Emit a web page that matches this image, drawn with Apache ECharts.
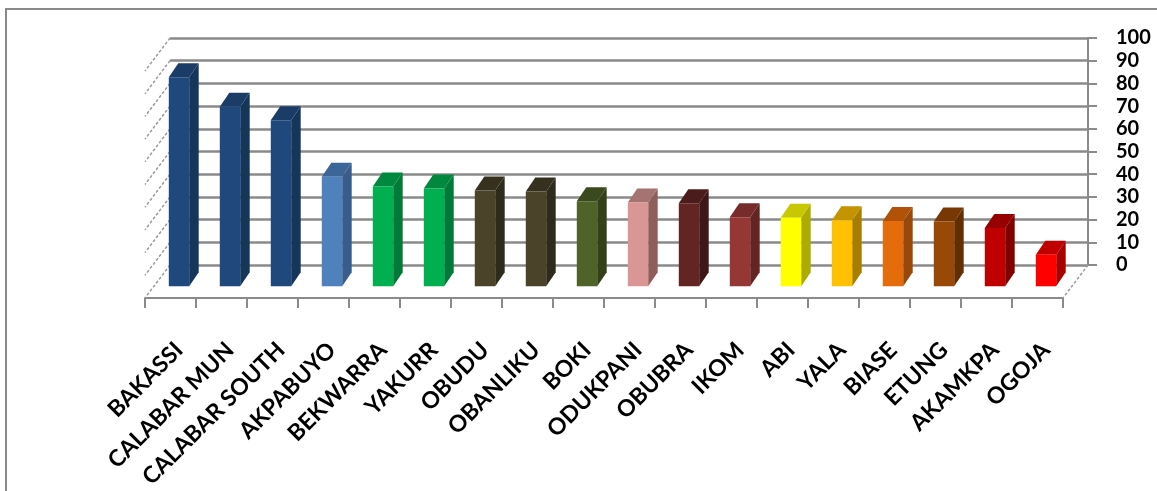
<!DOCTYPE html>
<html>
<head>
<meta charset="utf-8">
<script src="https://cdn.jsdelivr.net/npm/echarts@6/dist/echarts.min.js"></script>
<style>
  html, body { margin: 0; padding: 0; background: #ffffff; }
  #chart { width: 1157px; height: 491px; }
</style>
</head>
<body>
<div id="chart"></div>
<script>
// Local government areas and their values
const categories = ['BAKASSI', 'CALABAR MUN', 'CALABAR SOUTH', 'AKPABUYO', 'BEKWARRA', 'YAKURR',
  'OBUDU', 'OBANLIKU', 'BOKI', 'ODUKPANI', 'OBUBRA', 'IKOM', 'ABI', 'YALA', 'BIASE', 'ETUNG',
  'AKAMKPA', 'OGOJA'];
const values = [93.2, 80.1, 74.0, 48.8, 44.5, 43.6, 42.7, 42.3, 37.9, 37.4, 37.0, 30.8, 30.6,
  29.5, 29.1, 28.9, 26.0, 14.1];

// Value axis ticks
const valueMin = 0;
const valueMax = 100;
const valueStep = 10;
const wallTicks = [0, 10, 20, 30, 40, 50, 60, 70, 80, 90, 100];

// Per-bar palette: front face, side face, top face
const frontColors = ['#1F497D', '#1F497D', '#1F497D', '#4F81BD', '#00B050', '#00B050', '#4A432A',
  '#4A432A', '#4F6228', '#D99694', '#632523', '#953735', '#FFFF00', '#FFC000', '#E46C0A',
  '#984807', '#C00000', '#FF0000'];
const sideColors = ['#16355B', '#16355B', '#16355B', '#385D8A', '#007A38', '#007A38', '#2E2A1C',
  '#2E2A1C', '#33401A', '#8E5E5D', '#3E1818', '#632523', '#ABAB00', '#A87E00', '#984808',
  '#622F05', '#800000', '#A80000'];
const topColors = ['#1A3C66', '#1A3C66', '#1A3C66', '#3C6598', '#00883E', '#00883E', '#36311F',
  '#36311F', '#3A4A1E', '#A57371', '#4A1C1B', '#772B2A', '#C8C800', '#C39300', '#B05308',
  '#773805', '#960000', '#C00000'];

// Layout of the oblique 3D box
const W = 1157, H = 491;
const wall = { left: 170, top: 38, right: 1088, bottom: 265 };   // back wall
const depth = { dx: -25, dy: 33 };      // back wall -> front edge of the floor
const barPlane = { dx: -16.5, dy: 24 }; // back wall -> front faces of the bars
const barDepth = { dx: 9.5, dy: -14 };  // front face -> back face of a bar
const barWidthRatio = 0.4;
const lineGray = '#8a8a8a';
const valueFont = { fontFamily: 'Lato', fontWeight: 'bold', fontSize: 20, color: '#000000' };
const categoryFont = { fontFamily: 'Lato', fontWeight: 'bold', fontSize: 23, color: '#000000' };

function shiftedGrid(s) {
  return {
    left: wall.left + s.dx,
    right: W - (wall.right + s.dx),
    top: wall.top + s.dy,
    bottom: H - (wall.bottom + s.dy)
  };
}

const chart = echarts.init(document.getElementById('chart'), null, { renderer: 'canvas' });

const option = {
  animation: false,
  backgroundColor: '#ffffff',
  graphic: [{
    type: 'polyline',
    shape: { points: [[6, H], [6, 9], [W, 9]] },
    style: { stroke: lineGray, lineWidth: 2, fill: null },
    z: 0
  }],
  grid: [
    { left: wall.left, right: W - wall.right, top: wall.top, bottom: H - wall.bottom },
    shiftedGrid(depth),
    shiftedGrid(barPlane)
  ],
  xAxis: [
    { type: 'category', gridIndex: 0, data: categories, show: false },
    {
      type: 'category', gridIndex: 1, data: categories,
      axisLine: { show: true, lineStyle: { color: lineGray, width: 2 } },
      axisTick: { show: true, interval: 0, length: 10, lineStyle: { color: lineGray, width: 2 } },
      axisLabel: { show: false },
      splitLine: { show: false }
    },
    {
      type: 'category', gridIndex: 2, data: categories,
      axisLine: { show: false },
      axisTick: { show: false },
      splitLine: { show: false },
      axisLabel: Object.assign({ interval: 0, rotate: 45, margin: 60, hideOverlap: false }, categoryFont)
    }
  ],
  yAxis: [
    {
      type: 'value', gridIndex: 0, position: 'right',
      min: valueMin, max: valueMax, interval: valueStep,
      axisLine: { show: true, lineStyle: { color: lineGray, width: 2 } },
      axisTick: { show: true, length: 9, lineStyle: { color: lineGray, width: 2 } },
      splitLine: { show: true, lineStyle: { color: lineGray, width: 2.5 } },
      axisLabel: Object.assign({ margin: 28, align: 'left' }, valueFont)
    },
    { type: 'value', gridIndex: 1, min: valueMin, max: valueMax, show: false, splitLine: { show: false } },
    { type: 'value', gridIndex: 2, min: valueMin, max: valueMax, show: false, splitLine: { show: false } }
  ],
  series: [
    {
      // receding gridlines on the left wall and the right edge of the floor
      type: 'custom',
      xAxisIndex: 0,
      yAxisIndex: 0,
      z: 1,
      silent: true,
      data: wallTicks.map(v => [0, v]),
      renderItem: function (params, api) {
        const cs = params.coordSys;
        const y = api.coord([0, api.value(1)])[1];
        const dashed = { stroke: '#9a9a9a', lineWidth: 1.5, lineDash: [3, 2] };
        const children = [{
          type: 'line',
          shape: { x1: cs.x, y1: y, x2: cs.x + depth.dx, y2: y + depth.dy },
          style: dashed
        }];
        if (api.value(1) === valueMin) {
          const xr = cs.x + cs.width;
          children.push({
            type: 'line',
            shape: { x1: xr, y1: y, x2: xr + depth.dx, y2: y + depth.dy },
            style: dashed
          });
        }
        return { type: 'group', children: children };
      }
    },
    {
      // 3D columns: side, top and front faces
      type: 'custom',
      xAxisIndex: 2,
      yAxisIndex: 2,
      z: 3,
      data: values.map((v, i) => [i, v]),
      renderItem: function (params, api) {
        const i = api.value(0);
        const top = api.coord([i, api.value(1)]);
        const base = api.coord([i, valueMin]);
        const w = api.size([1, 0])[0] * barWidthRatio;
        const xl = top[0] - w / 2, xr = top[0] + w / 2;
        const yt = top[1], yb = base[1];
        const dx = barDepth.dx, dy = barDepth.dy;
        return {
          type: 'group',
          children: [
            { type: 'polygon', shape: { points: [[xr, yt], [xr + dx, yt + dy], [xr + dx, yb + dy], [xr, yb]] },
              style: { fill: sideColors[i] } },
            { type: 'polygon', shape: { points: [[xl, yt], [xl + dx, yt + dy], [xr + dx, yt + dy], [xr, yt]] },
              style: { fill: topColors[i] } },
            { type: 'rect', shape: { x: xl, y: yt, width: w, height: yb - yt },
              style: { fill: frontColors[i] } }
          ]
        };
      }
    }
  ]
};

chart.setOption(option);
</script>
</body>
</html>
